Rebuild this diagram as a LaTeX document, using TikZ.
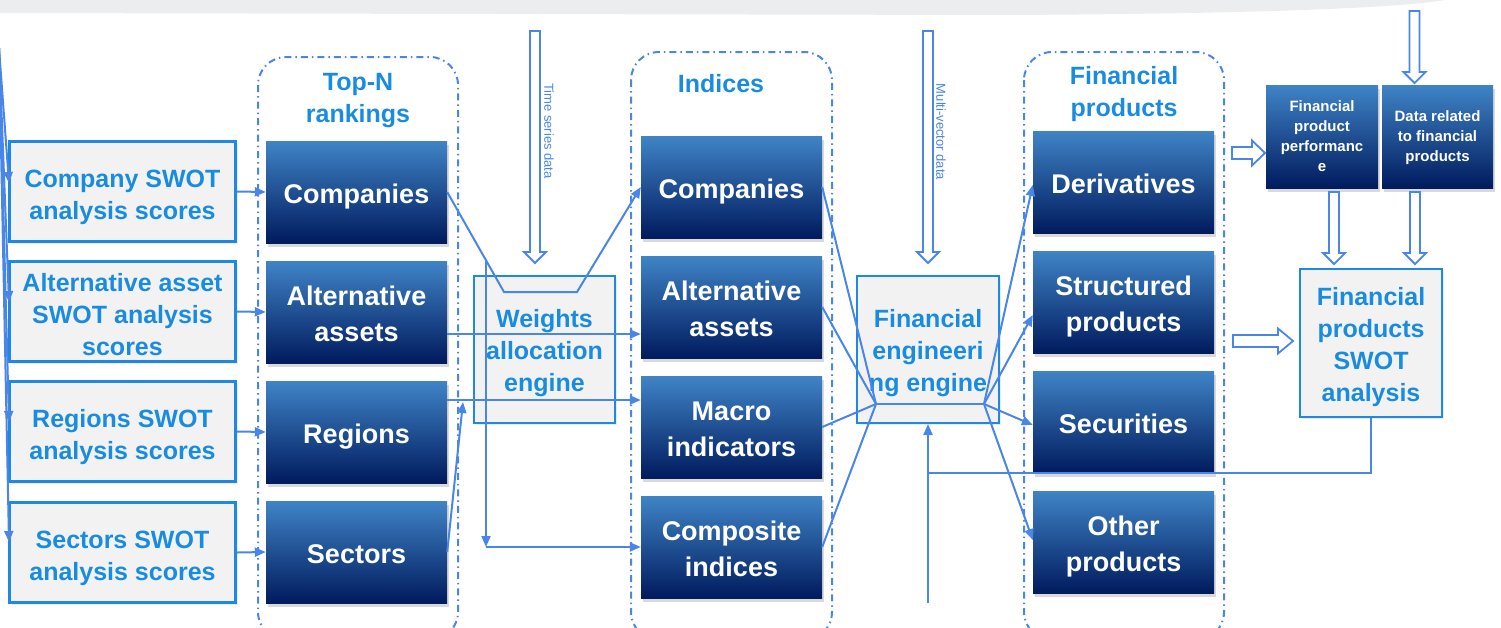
\documentclass[tikz,border=0pt]{standalone}
\usepackage{fontspec}
\setmainfont{Liberation Sans}
\usetikzlibrary{arrows.meta,shadows,calc}
\definecolor{lineblue}{HTML}{4A86E8}
\definecolor{textblue}{HTML}{1A8CE0}
\definecolor{boxblue}{HTML}{1E88E5}
\definecolor{lightfill}{HTML}{F2F2F2}
\definecolor{gradtop}{HTML}{3F84C6}
\definecolor{gradbot}{HTML}{001B5E}
\definecolor{bandgray}{HTML}{ECEDEF}
\newcommand{\tT}{\rule{0pt}{0.9em}}
\newcommand{\tS}{\rule{0pt}{1.06em}}
\newcommand{\tW}{\rule{0pt}{1.2em}}
\newcommand{\bS}{\rule[-0.24em]{0pt}{0pt}}
\newcommand{\hollowdown}[3]{%
  \draw[hollow] ({#1-5},#2) -- ({#1+5},#2) -- ({#1+5},{#3-11}) -- ({#1+11},{#3-11}) -- (#1,#3) -- ({#1-11},{#3-11}) -- ({#1-5},{#3-11}) -- cycle;}
\newcommand{\hollowright}[4]{%
  \draw[hollow] (#2,{#1-6}) -- (#4,{#1-6}) -- (#4,{#1-12.5}) -- (#3,#1) -- (#4,{#1+12.5}) -- (#4,{#1+6}) -- (#2,{#1+6}) -- cycle;}
\begin{document}
\begin{tikzpicture}[x=1pt,y=-1pt,
  swot/.style={draw=boxblue, line width=3pt, fill=lightfill, minimum width=226pt, minimum height=100pt,
    text=textblue, font=\fontsize{25}{32}\selectfont\bfseries, align=center, inner sep=0pt,
    drop shadow={opacity=0.15, shadow xshift=2pt, shadow yshift=-2pt}},
  dark/.style={top color=gradtop, bottom color=gradbot, draw=none, minimum width=181pt, minimum height=102pt,
    text=white, font=\fontsize{27}{36}\selectfont\bfseries, align=center, inner sep=0pt,
    drop shadow={opacity=0.25, shadow xshift=2pt, shadow yshift=-4pt, fill=black!60}},
  smalldark/.style={dark, minimum height=103pt, font=\fontsize{15}{20}\selectfont\bfseries},
  engine/.style={draw=boxblue, line width=2pt, fill=lightfill, minimum height=147pt,
    text=textblue, font=\fontsize{25}{32}\selectfont\bfseries, align=center, inner sep=0pt,
    drop shadow={opacity=0.15, shadow xshift=2pt, shadow yshift=-2pt}},
  title/.style={text=textblue, font=\fontsize{25}{32}\selectfont\bfseries, align=center, inner sep=0pt},
  rot/.style={text=lineblue, font=\fontsize{13}{15}\selectfont, rotate=-90, inner sep=0pt},
  cont/.style={draw=lineblue, line width=2pt, rounded corners=28pt, dash pattern=on 7pt off 4pt on 1.5pt off 4pt},
  conn/.style={draw=lineblue, line width=2pt, -{Triangle[length=11pt,width=9pt]}},
  plain/.style={draw=lineblue, line width=2pt},
  hollow/.style={draw=lineblue, line width=1.8pt, fill=white, line join=miter},
]
\useasboundingbox (0,0) rectangle (1501,627);
% top band
\fill[bandgray] (0,0) -- (0,13) -- (1000,15) .. controls (1250,14) and (1400,8) .. (1445,0) -- cycle;

% containers
\draw[cont] (258,57) rectangle (458,640);
\draw[cont] (631,52) rectangle (832,640);
\draw[cont] (1024,52) rectangle (1224,640);

% titles
\node[title] (ttop) at (358,98) {\tT Top-N\\rankings\bS};
\node[title] (tind) at (721,84) {\tT Indices\bS};
\node[title] (tfp) at (1124,92) {\tT Financial\\products\bS};

% SWOT boxes
\node[swot] (s1) at (122.5,191.5) {\tW Company SWOT\\analysis scores\bS};
\node[swot] (s2) at (122.5,311.5) {\tW Alternative asset\\SWOT analysis\\scores\bS};
\node[swot] (s3) at (122.5,431.5) {\tW Regions SWOT\\analysis scores\bS};
\node[swot] (s4) at (122.5,552.5) {\tW Sectors SWOT\\analysis scores\bS};

% Top-N boxes
\node[dark] (tc) at (356.5,192) {\tS Companies\bS};
\node[dark] (ta) at (356.5,312) {\tS Alternative\\assets\bS};
\node[dark] (tr) at (356.5,432) {\tS Regions\bS};
\node[dark] (ts) at (356.5,552) {\tS Sectors\bS};

% Indices boxes
\node[dark] (ic) at (731.5,187) {\tS Companies\bS};
\node[dark] (ia) at (731.5,307) {\tS Alternative\\assets\bS};
\node[dark] (im) at (731.5,427) {\tS Macro\\indicators\bS};
\node[dark] (ix) at (731.5,547) {\tS Composite\\indices\bS};

% Financial products boxes
\node[dark] (fd) at (1123.5,182) {\tS Derivatives\bS};
\node[dark] (fs) at (1123.5,302) {\tS Structured\\products\bS};
\node[dark] (fc) at (1123.5,422) {\tS Securities\bS};
\node[dark] (fo) at (1123.5,542) {\tS Other\\products\bS};

% engines
\node[engine, minimum width=141pt] (we) at (544.5,349.5) {\tS Weights\\allocation\\engine\bS};
\node[engine, minimum width=142pt] (fe) at (928,349.5) {\tS Financial\\engineeri\\ng engine\bS};
\node[engine, minimum width=142pt, minimum height=148pt] (sw) at (1371,343) {\tS Financial\\products\\SWOT\\analysis\bS};

% right top boxes
\node[smalldark, minimum width=112pt] (pp) at (1322,136.5) {\tT Financial\\product\\performanc\\e\bS};
\node[smalldark, minimum width=111pt] (dr) at (1437.5,136.5) {\tT Data related\\to financial\\products\bS};

% rotated labels
\node[rot] (tsl) at (549,131) {Time series data};
\node[rot] (mvl) at (941,132) {Multi-vector data};

% hollow block arrows
\hollowdown{535}{31}{263}
\hollowdown{928}{31}{263}
\hollowdown{1414.5}{11}{83}
\hollowdown{1334}{192}{264}
\hollowdown{1415}{192}{264}
\hollowright{153}{1232}{1265}{1252}
\hollowright{341}{1233}{1293}{1278}

% coordinates
\coordinate (src) at (-1,48);
\coordinate (wa) at (504,292);
\coordinate (wb) at (577,292);
\coordinate (vj) at (486,260);
\coordinate (vc) at (486,547);
\coordinate (rj) at (463,402);
\coordinate (altrow) at (0,334);
\coordinate (regrow) at (0,400);
\coordinate (fl) at (876,404);
\coordinate (fr) at (984,404);
\coordinate (fb) at (928,473);
\coordinate (fbot) at (928,603);

% left feed lines
\draw[conn] (src) -- (9,183);
\draw[conn] (src) -- (9,302);
\draw[conn] (src) -- (9,422);
\draw[conn] (src) -- (9,542);

% SWOT -> Top-N
\draw[conn] (s1.east) -- (tc.west);
\draw[conn] (s2.east) -- (ta.west);
\draw[conn] (s3.east) -- (tr.west);
\draw[conn] (s4.east) -- (ts.west);

% Top-N -> Indices
\draw[conn] (tc.east) -- (wa) -- (wb) -- (ic.west);
\draw[conn] (ta.east |- altrow) -- (ia.west |- altrow);
\draw[conn] (tr.east |- regrow) -- (im.west |- regrow);
\draw[conn] (ts.east) -- (rj);
\draw[conn] (vj) -- (vc);
\draw[conn] (vc) -- (ix.west);

% Indices -> FE
\draw[plain] (ic.east) -- (fl);
\draw[plain] (ia.east) -- (fl);
\draw[plain] (im.east) -- (fl);
\draw[plain] (ix.east) -- (fl);
\draw[plain] (fl) -- (fr);
\draw[conn] (fr) -- (fd.west |- 0,185);
\draw[conn] (fr) -- (fs.west |- 0,315);
\draw[conn] (fr) -- (fc.west |- 0,425);
\draw[conn] (fr) -- (fo.west |- 0,540);

% feedback
\draw[conn] (fbot) -- (fe.south);
\draw[plain] (sw.south) -- (sw.south |- fb) -- (fb);
\end{tikzpicture}
\end{document}
